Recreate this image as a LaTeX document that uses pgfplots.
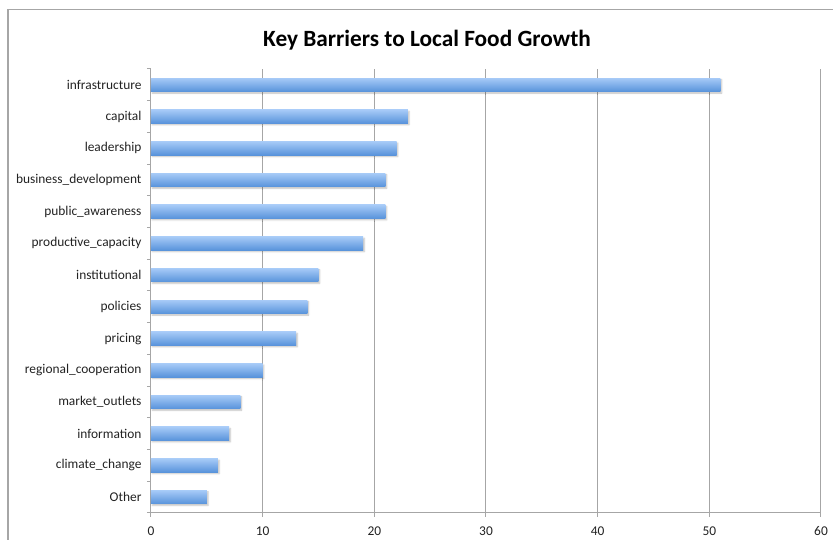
\documentclass[border=0pt]{standalone}
\usepackage{fontspec}
\setmainfont{Carlito}
\usepackage{pgfplots}
\pgfplotsset{compat=1.18}
\usetikzlibrary{shadows.blur}
\definecolor{gridc}{HTML}{A6A6A6}
\definecolor{barTop}{HTML}{A6CAF7}
\definecolor{barBot}{HTML}{5893DB}
\definecolor{txt}{HTML}{222222}
\pgfplotsset{mybar/.style={xbar, bar width=13.5pt, draw=none, top color=barTop, bottom color=barBot,
  blur shadow={shadow xshift=1.2pt, shadow yshift=-1.5pt, shadow blur radius=1.5pt, shadow opacity=25}}}
\begin{document}
\begin{tikzpicture}[x=1pt,y=1pt]
\useasboundingbox (0,0) rectangle (833,540);
\draw[color=gridc, line width=1.3pt] (8,0) -- (8,530.5) -- (833,530.5);
\node[font=\fontsize{23.3}{27}\selectfont\bfseries, text=black] at (427,499.5) {Key Barriers to Local Food Growth};
\begin{axis}[
  at={(151pt,27pt)}, anchor=south west,
  scale only axis, width=670pt, height=444pt,
  xmin=0, xmax=60, xtick={0,10,...,60},
  ymin=-0.5, ymax=13.5, ytick={0,...,13},
  yticklabels={Other,climate\_change,information,market\_outlets,regional\_cooperation,pricing,policies,institutional,productive\_capacity,public\_awareness,business\_development,leadership,capital,infrastructure},
  minor ytick={-0.5,0.5,...,13.5},
  xmajorgrids, major grid style={gridc, line width=1pt},
  axis x line*=bottom, axis y line*=left,
  axis line style={gridc, line width=1pt, -},
  tick align=outside, major tick length=4pt, minor tick length=4pt,
  tick style={gridc, line width=1pt},
  major y tick style={draw=none},
  ticklabel style={font=\fontsize{13.4}{15}\selectfont, text=txt},
  yticklabel style={xshift=-2pt},
  xticklabel style={yshift=-6pt},
  /pgf/number format/assume math mode=true,
]
\addplot[mybar] coordinates {(5,0)};
\addplot[mybar] coordinates {(6,1)};
\addplot[mybar] coordinates {(7,2)};
\addplot[mybar] coordinates {(8,3)};
\addplot[mybar] coordinates {(10,4)};
\addplot[mybar] coordinates {(13,5)};
\addplot[mybar] coordinates {(14,6)};
\addplot[mybar] coordinates {(15,7)};
\addplot[mybar] coordinates {(19,8)};
\addplot[mybar] coordinates {(21,9)};
\addplot[mybar] coordinates {(21,10)};
\addplot[mybar] coordinates {(22,11)};
\addplot[mybar] coordinates {(23,12)};
\addplot[mybar] coordinates {(51,13)};
\end{axis}
\end{tikzpicture}
\end{document}
